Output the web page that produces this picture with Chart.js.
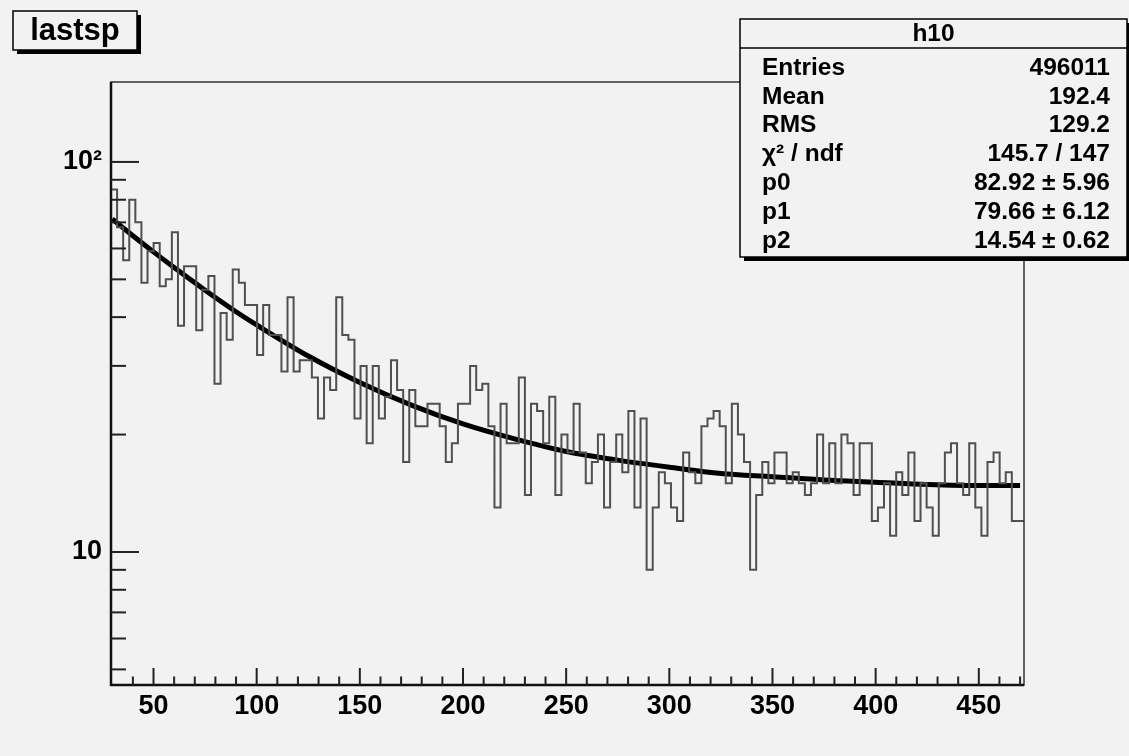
<!DOCTYPE html>
<html>
<head>
<meta charset="utf-8">
<script src="https://cdn.jsdelivr.net/npm/chart.js@4/dist/chart.umd.min.js"></script>
<style>
  html, body { margin: 0; padding: 0; background: #f2f2f2; }
  #wrap { width: 1129px; height: 756px; }
</style>
</head>
<body>
<div id="wrap"><canvas id="histChart" width="1129" height="756"></canvas></div>
<script>
// histogram "h10": 150 bins starting at 29.4, width 2.95
const binStart = 29.4;
const binWidth = 2.95;
const binCounts = [
  65.6, 85, 68, 56, 80, 70, 49, 59, 62, 48,
  50, 66, 38, 54, 54, 37, 47, 51, 27, 41,
  35, 53, 49, 43, 43, 32, 43, 36, 36, 29,
  45, 29, 31, 31, 28, 22, 28, 26, 45, 36,
  35, 22, 30, 19, 30, 22, 25, 31, 26, 17,
  26, 21, 21, 24, 24, 21, 17, 19, 24, 24,
  30, 26, 27, 21, 13, 24, 19, 19, 28, 14,
  24, 23, 19, 25, 14, 20, 18, 24, 18, 15,
  17, 20, 13, 17, 20, 16, 23, 13, 22, 9,
  13, 16, 15, 13, 12, 18, 16, 15, 21, 22,
  23, 21, 15, 24, 20, 17, 9, 14, 17, 15,
  18, 18, 15, 16, 15, 14, 15, 20, 15, 19,
  15, 20, 19, 14, 19, 19, 12, 13, 15, 11,
  16, 14, 18, 12, 15, 13, 11, 15, 18, 19,
  15, 14, 19, 13, 11, 17, 18, 15, 16, 12
];

// fit curve
const fitX = [30, 40, 50, 60, 75, 90, 100, 125, 150, 175, 200, 225, 250, 275, 300, 325, 350, 375, 400, 425, 450, 470];
const fitY = [71.4, 64.7, 58.8, 53.6, 46.9, 41.3, 38.2, 31.8, 27.2, 23.8, 21.3, 19.5, 18.1, 17.2, 16.5, 15.9, 15.6, 15.3, 15.1, 14.9, 14.8, 14.8];

// axes
const xRange = [29.4, 471.9];
const yRange = [4.56, 160.3];
const xMajorTicks = [50, 100, 150, 200, 250, 300, 350, 400, 450];
const xMinorTicks = [40, 60, 70, 80, 90, 110, 120, 130, 140, 160, 170, 180, 190, 210, 220, 230, 240,
  260, 270, 280, 290, 310, 320, 330, 340, 360, 370, 380, 390, 410, 420, 430, 440, 460, 470];
const yMajorTicks = [10, 100];
const yMinorTicks = [5, 6, 7, 8, 9, 20, 30, 40, 50, 60, 70, 80, 90];

// boxes
const titleText = 'lastsp';
const statsTitle = 'h10';
const statsLabels = ['Entries', 'Mean', 'RMS', 'χ² / ndf', 'p0', 'p1', 'p2'];
const statsValues = ['496011', '192.4', '129.2', '145.7 / 147', '82.92 ± 5.96', '79.66 ± 6.12', '14.54 ± 0.62'];

const BG = '#f2f2f2';
const FONT = '"Liberation Sans", Arial, Helvetica, sans-serif';

// build step points from bin edges
const histPoints = binCounts.map((c, i) => ({ x: binStart + i * binWidth, y: c }));
histPoints.push({ x: binStart + binCounts.length * binWidth, y: binCounts[binCounts.length - 1] });
const fitPoints = fitX.map((x, i) => ({ x: x, y: fitY[i] }));

function line(ctx, x1, y1, x2, y2) {
    ctx.beginPath();
    ctx.moveTo(x1, y1);
    ctx.lineTo(x2, y2);
    ctx.stroke();
}

function shadowBox(ctx, l, t, r, b, shadow) {
    ctx.fillStyle = '#000';
    ctx.fillRect(l + shadow, b, r - l, shadow);
    ctx.fillRect(r, t + shadow, shadow, b - t);
    ctx.fillStyle = BG;
    ctx.fillRect(l, t, r - l, b - t);
    ctx.strokeStyle = '#000';
    ctx.lineWidth = 1.5;
    ctx.strokeRect(l, t, r - l, b - t);
}

const rootDecor = {
    id: 'rootDecor',
    beforeDraw(chart) {
        const ctx = chart.ctx;
        ctx.save();
        ctx.fillStyle = BG;
        ctx.fillRect(0, 0, chart.width, chart.height);
        ctx.restore();
    },
    afterDraw(chart) {
        const ctx = chart.ctx;
        const a = chart.chartArea;
        const xs = chart.scales.x;
        const ys = chart.scales.y;
        ctx.save();

        // frame
        ctx.strokeStyle = '#333';
        ctx.lineWidth = 1.5;
        ctx.strokeRect(a.left, a.top, a.right - a.left, a.bottom - a.top);
        ctx.strokeStyle = '#111';
        ctx.lineWidth = 2.5;
        ctx.beginPath();
        ctx.moveTo(a.left, a.top);
        ctx.lineTo(a.left, a.bottom);
        ctx.lineTo(a.right, a.bottom);
        ctx.stroke();

        // inward ticks
        ctx.strokeStyle = '#222';
        ctx.lineWidth = 2;
        xMajorTicks.forEach(v => {
            const px = xs.getPixelForValue(v);
            line(ctx, px, a.bottom, px, a.bottom - 17);
        });
        xMinorTicks.forEach(v => {
            const px = xs.getPixelForValue(v);
            line(ctx, px, a.bottom, px, a.bottom - 8.5);
        });
        yMajorTicks.forEach(v => {
            const py = ys.getPixelForValue(v);
            line(ctx, a.left, py, a.left + 28, py);
        });
        yMinorTicks.forEach(v => {
            const py = ys.getPixelForValue(v);
            line(ctx, a.left, py, a.left + 15, py);
        });

        // title box
        shadowBox(ctx, 13, 11, 137, 50, 4);
        ctx.fillStyle = '#000';
        ctx.font = 'bold 31px ' + FONT;
        ctx.textAlign = 'center';
        ctx.textBaseline = 'middle';
        ctx.fillText(titleText, 75, 31);

        // stats box
        const sl = 740, st = 19, sr = 1127, sb = 257;
        shadowBox(ctx, sl, st, sr, sb, 4);
        ctx.strokeStyle = '#000';
        ctx.lineWidth = 1.5;
        line(ctx, sl, 48, sr, 48);
        ctx.fillStyle = '#000';
        ctx.font = 'bold 24.5px ' + FONT;
        ctx.textAlign = 'center';
        ctx.fillText(statsTitle, (sl + sr) / 2, 34);
        statsLabels.forEach((lab, i) => {
            const yy = 68 + i * 28.8;
            ctx.textAlign = 'left';
            ctx.fillText(lab, 762, yy);
            ctx.textAlign = 'right';
            ctx.fillText(statsValues[i], 1110, yy);
        });
        ctx.restore();
    }
};

const ctx = document.getElementById('histChart').getContext('2d');
new Chart(ctx, {
    type: 'line',
    data: {
        datasets: [
            {
                label: 'h10',
                data: histPoints,
                stepped: 'after',
                borderColor: '#505050',
                borderWidth: 2,
                pointRadius: 0,
                fill: false
            },
            {
                label: 'fit',
                data: fitPoints,
                borderColor: '#000',
                borderWidth: 5,
                pointRadius: 0,
                cubicInterpolationMode: 'monotone',
                fill: false
            }
        ]
    },
    options: {
        responsive: false,
        animation: false,
        layout: { padding: { left: 0, top: 82, right: 105, bottom: 0 } },
        plugins: {
            legend: { display: false },
            title: { display: false },
            tooltip: { enabled: false }
        },
        scales: {
            x: {
                type: 'linear',
                min: xRange[0],
                max: xRange[1],
                grid: { display: false, drawTicks: false },
                border: { display: false },
                afterBuildTicks: scale => { scale.ticks = xMajorTicks.map(v => ({ value: v })); },
                afterFit: scale => { scale.height = 71; },
                ticks: {
                    autoSkip: false,
                    maxRotation: 0,
                    padding: 5,
                    color: '#000',
                    font: { family: FONT, size: 27, weight: 'bold' },
                    callback: v => String(v)
                }
            },
            y: {
                type: 'logarithmic',
                min: yRange[0],
                max: yRange[1],
                grid: { display: false, drawTicks: false },
                border: { display: false },
                afterBuildTicks: scale => { scale.ticks = yMajorTicks.map(v => ({ value: v })); },
                afterFit: scale => { scale.width = 111; },
                ticks: {
                    autoSkip: false,
                    padding: 9,
                    color: '#000',
                    font: { family: FONT, size: 27, weight: 'bold' },
                    callback: v => (v === 100 ? '10²' : '10')
                }
            }
        }
    },
    plugins: [rootDecor]
});
</script>
</body>
</html>
